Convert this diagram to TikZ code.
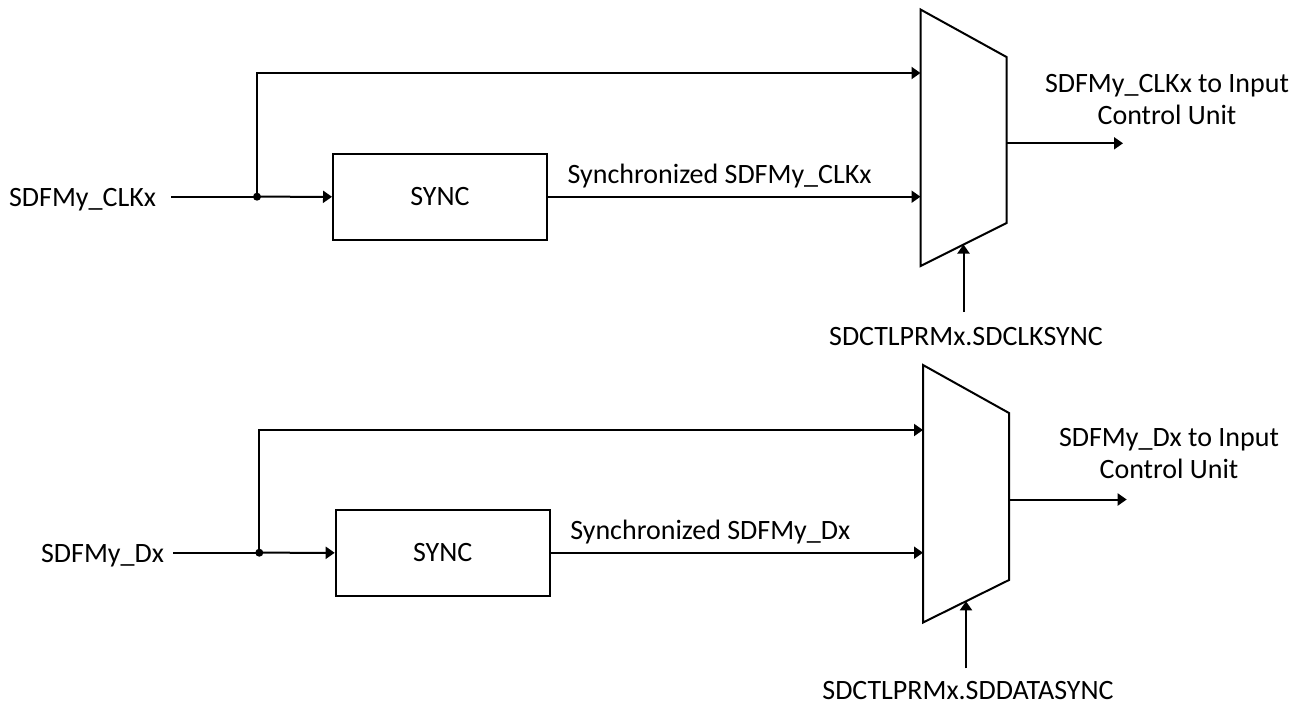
\documentclass[tikz,border=0pt]{standalone}
\usepackage{fontspec}
\setmainfont{Carlito}
\usetikzlibrary{arrows.meta}
\begin{document}
\begin{tikzpicture}[x=1pt,y=-1pt,
  line width=2pt,
  every node/.style={font=\fontsize{28}{32}\selectfont, inner sep=0pt},
  conn/.style={-{Triangle[length=9pt,width=12pt]}},
  syncbox/.style={draw, line width=2pt, minimum width=214pt, minimum height=85.5pt},
  junc/.style={circle, fill=black, minimum size=8pt, inner sep=0pt},
  muxshape/.style={draw, line width=2pt, line join=miter}]
\useasboundingbox (0,0) rectangle (1302,705);

% ---------- top channel ----------
\node[anchor=base east] (inA) at (157,206.5) {SDFMy\_CLKx};
\coordinate (inAs) at (171,196.7);
\node[junc] (jA) at (257,196.7) {};
\node[syncbox] (syncA) at (440,196.8) {SYNC};
\coordinate (mAtl) at (920.5,9.5);
\coordinate (mAbl) at (920.5,266);
\coordinate (mAtr) at (1006.5,57);
\coordinate (mAbr) at (1006.5,223);
\draw[muxshape] (mAtl) -- (mAtr) -- (mAbr) -- (mAbl) -- cycle;
\coordinate (mAi0) at (920.5,73);
\coordinate (mAi1) at (920.5,196.7);
\coordinate (mAo) at (1006.5,143.3);
\coordinate (mAs) at (963.5,244.5);
\coordinate (outA) at (1123,143.3);
\coordinate (selAs) at (963.5,312);

\draw (inAs) -- (jA.center);
\draw[conn] (jA.center) -- (syncA.west);
\draw[conn] (jA.center) |- (mAi0);
\draw[conn] (syncA.east |- mAi1) -- node[pos=0.05, anchor=base west, yshift=13.7pt] (lblA) {Synchronized SDFMy\_CLKx} (mAi1);
\draw[conn] (mAo) -- (outA);
\node[align=center, anchor=base] (outAl) at (1167,124.5) {SDFMy\_CLKx to Input\\Control Unit};
\draw[conn] (selAs) -- (mAs);
\node[anchor=base] (selAl) at (966,345) {SDCTLPRMx.SDCLKSYNC};

% ---------- bottom channel ----------
\node[anchor=base east] (inB) at (165,562.5) {SDFMy\_Dx};
\coordinate (inBs) at (173.3,552.7);
\node[junc] (jB) at (259.3,552.7) {};
\node[syncbox] (syncB) at (442.7,552.8) {SYNC};
\coordinate (mBtl) at (923,365);
\coordinate (mBbl) at (923,622.5);
\coordinate (mBtr) at (1009,413);
\coordinate (mBbr) at (1009,580);
\draw[muxshape] (mBtl) -- (mBtr) -- (mBbr) -- (mBbl) -- cycle;
\coordinate (mBi0) at (923,430);
\coordinate (mBi1) at (923,552.7);
\coordinate (mBo) at (1009,499.5);
\coordinate (mBs) at (966,601.3);
\coordinate (outB) at (1126.7,499.5);
\coordinate (selBs) at (966,668.3);

\draw (inBs) -- (jB.center);
\draw[conn] (jB.center) -- (syncB.west);
\draw[conn] (jB.center) |- (mBi0);
\draw[conn] (syncB.east |- mBi1) -- node[pos=0.05, anchor=base west, yshift=13.7pt] (lblB) {Synchronized SDFMy\_Dx} (mBi1);
\draw[conn] (mBo) -- (outB);
\node[align=center, anchor=base] (outBl) at (1169,478) {SDFMy\_Dx to Input\\Control Unit};
\draw[conn] (selBs) -- (mBs);
\node[anchor=base] (selBl) at (968,699.5) {SDCTLPRMx.SDDATASYNC};
\end{tikzpicture}
\end{document}
